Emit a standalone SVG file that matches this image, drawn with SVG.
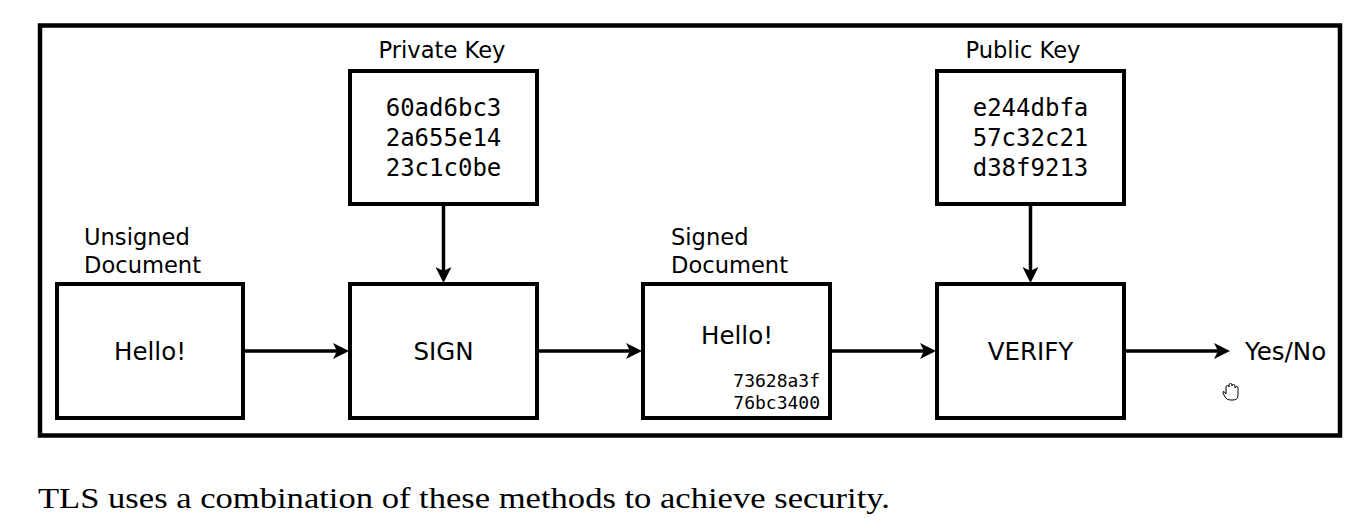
<svg xmlns="http://www.w3.org/2000/svg" width="1352" height="530" viewBox="0 0 1352 530">
  <style>
    .box { fill: #fff; stroke: #000; stroke-width: 4; }
    .frame { fill: none; stroke: #000; stroke-width: 4.5; }
    .lbl { font-family: "DejaVu Sans", sans-serif; font-size: 22.6px; fill: #000; }
    .big { font-family: "DejaVu Sans", sans-serif; font-size: 24.5px; fill: #000; }
    .mono { font-family: "DejaVu Sans Mono", monospace; font-size: 24px; fill: #000; }
    .monos { font-family: "DejaVu Sans Mono", monospace; font-size: 18px; fill: #000; }
    .conn { fill: none; stroke: #000; stroke-width: 3.5; }
    .cap { font-family: "Liberation Serif", serif; font-size: 30px; fill: #000; }
  </style>
  <defs>
    <marker id="arr" viewBox="0 0 16 16" refX="8" refY="8" markerWidth="16" markerHeight="16" markerUnits="userSpaceOnUse" orient="auto">
      <path d="M0,0 L16,8 L0,16 L4,8 Z" fill="#000"/>
    </marker>
  </defs>
  <rect width="1352" height="530" fill="#fff"/>
  <rect class="frame" x="40" y="25.5" width="1300" height="410"/>

  <g id="unsigned">
    <text class="lbl" x="84" y="245">Unsigned</text>
    <text class="lbl" x="84" y="273">Document</text>
    <rect class="box" x="57" y="284" width="186" height="134"/>
    <text class="big" x="150" y="360" text-anchor="middle">Hello!</text>
  </g>

  <g id="private-key">
    <text class="lbl" x="442" y="58" text-anchor="middle">Private Key</text>
    <rect class="box" x="350" y="71" width="187" height="133"/>
    <text class="mono" x="443.5" y="116" text-anchor="middle">60ad6bc3</text>
    <text class="mono" x="443.5" y="146" text-anchor="middle">2a655e14</text>
    <text class="mono" x="443.5" y="176" text-anchor="middle">23c1c0be</text>
  </g>

  <g id="sign">
    <rect class="box" x="350" y="284" width="187" height="134"/>
    <text class="big" x="443.5" y="360" text-anchor="middle">SIGN</text>
  </g>

  <g id="signed">
    <text class="lbl" x="671" y="245">Signed</text>
    <text class="lbl" x="671" y="273">Document</text>
    <rect class="box" x="643" y="284" width="187" height="134"/>
    <text class="big" x="737" y="344" text-anchor="middle">Hello!</text>
    <text class="monos" x="820" y="387" text-anchor="end">73628a3f</text>
    <text class="monos" x="820" y="409" text-anchor="end">76bc3400</text>
  </g>

  <g id="public-key">
    <text class="lbl" x="1023" y="58" text-anchor="middle">Public Key</text>
    <rect class="box" x="937" y="71" width="187" height="133"/>
    <text class="mono" x="1030.5" y="116" text-anchor="middle">e244dbfa</text>
    <text class="mono" x="1030.5" y="146" text-anchor="middle">57c32c21</text>
    <text class="mono" x="1030.5" y="176" text-anchor="middle">d38f9213</text>
  </g>

  <g id="verify">
    <rect class="box" x="937" y="284" width="187" height="134"/>
    <text class="big" x="1030.5" y="360" text-anchor="middle">VERIFY</text>
  </g>

  <g id="result">
    <text class="big" x="1245" y="360">Yes/No</text>
  </g>

  <g id="connectors">
    <line class="conn" x1="243" y1="351" x2="341" y2="351" marker-end="url(#arr)"/>
    <line class="conn" x1="537" y1="351" x2="634" y2="351" marker-end="url(#arr)"/>
    <line class="conn" x1="830" y1="351" x2="928" y2="351" marker-end="url(#arr)"/>
    <line class="conn" x1="1124" y1="351" x2="1222" y2="351" marker-end="url(#arr)"/>
    <line class="conn" x1="443.5" y1="204" x2="443.5" y2="275" marker-end="url(#arr)"/>
    <line class="conn" x1="1030.5" y1="204" x2="1030.5" y2="275" marker-end="url(#arr)"/>
  </g>

  <path id="cursor" d="M1226,394 L1226,387 Q1226,385.5 1227.5,385.5 Q1229,385.5 1229,387 L1229,385 Q1229,383.5 1230.5,383.5 Q1232,383.5 1232,385 L1232,386 Q1232,384.5 1233.5,384.5 Q1235,384.5 1235,386 L1235,388 Q1235,386.5 1236.5,386.5 Q1238,386.5 1238,388 L1238,395 Q1238,400 1233,400 L1230,400 Q1227,400 1225,397 L1223,393 Q1222.5,391.5 1224,391.5 Z" fill="#fff" stroke="#000" stroke-width="1"/>

  <text class="cap" x="38" y="508" textLength="852" lengthAdjust="spacingAndGlyphs">TLS uses a combination of these methods to achieve security.</text>
</svg>
